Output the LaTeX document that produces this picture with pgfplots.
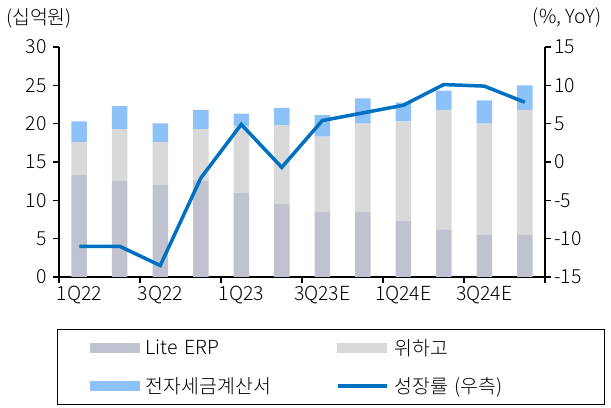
\documentclass[border=0pt]{standalone}
\usepackage{pgfplots}
\pgfplotsset{compat=1.18}
\usepackage{pgfplotstable}
\usepackage{fontspec}
\setmainfont{Noto Sans CJK KR}[UprightFont={* Light}]
\definecolor{cLite}{RGB}{192,194,207}
\definecolor{cWi}{RGB}{217,217,217}
\definecolor{cEtax}{RGB}{141,194,248}
\definecolor{cLine}{RGB}{0,112,192}

\pgfplotstableread{
x  lite  wi    etax  g
0  13.3  4.3   2.7   -11.0
1  12.55 6.75  3.0   -11.0
2  12.0  5.6   2.45  -13.5
3  12.55 6.75  2.5   -2.1
4  11.0  8.7   1.6   4.9
5  9.5   10.3  2.25  -0.7
6  8.5   9.8   2.8   5.4
7  8.5   11.5  3.3   6.4
8  7.3   13.0  2.45  7.4
9  6.2   15.6  2.5   10.1
10 5.45  14.55 3.05  9.9
11 5.45  16.35 3.2   7.8
}\data

\begin{document}
\begin{tikzpicture}[font=\fontsize{19.5}{22}\selectfont]
\begin{axis}[
  at={(0,0)}, anchor=south west,
  scale only axis, width=486bp, height=230bp,
  xmin=-0.5, xmax=11.5, ymin=0, ymax=30,
  ybar stacked, bar width=15.5bp,
  axis y line*=left, axis x line*=bottom,
  axis line style={line width=1.6bp, -},
  ytick={0,5,10,15,20,25,30}, yticklabels={0,5,10,15,20,25,30},
  xtick={-0.5,1.5,3.5,5.5,7.5,9.5,11.5},
  xticklabels={1Q22,3Q22,1Q23,3Q23E,1Q24E,3Q24E,},
  xticklabel style={xshift=20.25bp},
  tick align=outside, major tick length=6bp,
  tick style={line width=1.6bp, black},
  yticklabel style={xshift=-3bp},
]
\addplot[fill=cLite, draw=none] table[x=x,y=lite]{\data};
\addplot[fill=cWi, draw=none] table[x=x,y=wi]{\data};
\addplot[fill=cEtax, draw=none] table[x=x,y=etax]{\data};
\end{axis}
\begin{axis}[
  at={(0,0)}, anchor=south west,
  scale only axis, width=486bp, height=230bp,
  xmin=-0.5, xmax=11.5, ymin=-15, ymax=15,
  axis y line*=right, axis x line=none,
  axis line style={line width=1.6bp, -},
  ytick={-15,-10,-5,0,5,10,15}, yticklabels={-15,-10,-5,0,5,10,15},
  tick align=outside, major tick length=6bp,
  tick style={line width=1.6bp, black},
  legend columns=2,
  legend cell align=left,
  legend style={at={(-0.004,-0.226)}, anchor=north west, draw=black, line width=1.2bp,
    inner xsep=32bp, inner ysep=4bp,
    nodes={text width=172bp, inner sep=6bp},
    /tikz/every even column/.append style={column sep=12bp},
    row sep=8bp,
    font=\fontsize{19.5}{22}\selectfont},
]
\addlegendimage{legend image code/.code={\fill[cLite] (0bp,-4.5bp) rectangle (49bp,4.5bp);}}
\addlegendentry{Lite ERP}
\addlegendimage{legend image code/.code={\fill[cWi] (0bp,-4.5bp) rectangle (49bp,4.5bp);}}
\addlegendentry{위하고}
\addlegendimage{legend image code/.code={\fill[cEtax] (0bp,-4.5bp) rectangle (49bp,4.5bp);}}
\addlegendentry{전자세금계산서}
\addplot[cLine, line width=3.5bp, legend image code/.code={\draw[cLine, line width=3.5bp] (0bp,0bp) -- (49bp,0bp);}] table[x=x,y=g]{\data};
\addlegendentry{성장률 (우측)}
\end{axis}
\node at (-20bp,259bp) {(십억원)};
\node at (508bp,259bp) {(\%, YoY)};
\path[use as bounding box] (-59bp,-131bp) rectangle (552bp,277bp);
\end{tikzpicture}
\end{document}
